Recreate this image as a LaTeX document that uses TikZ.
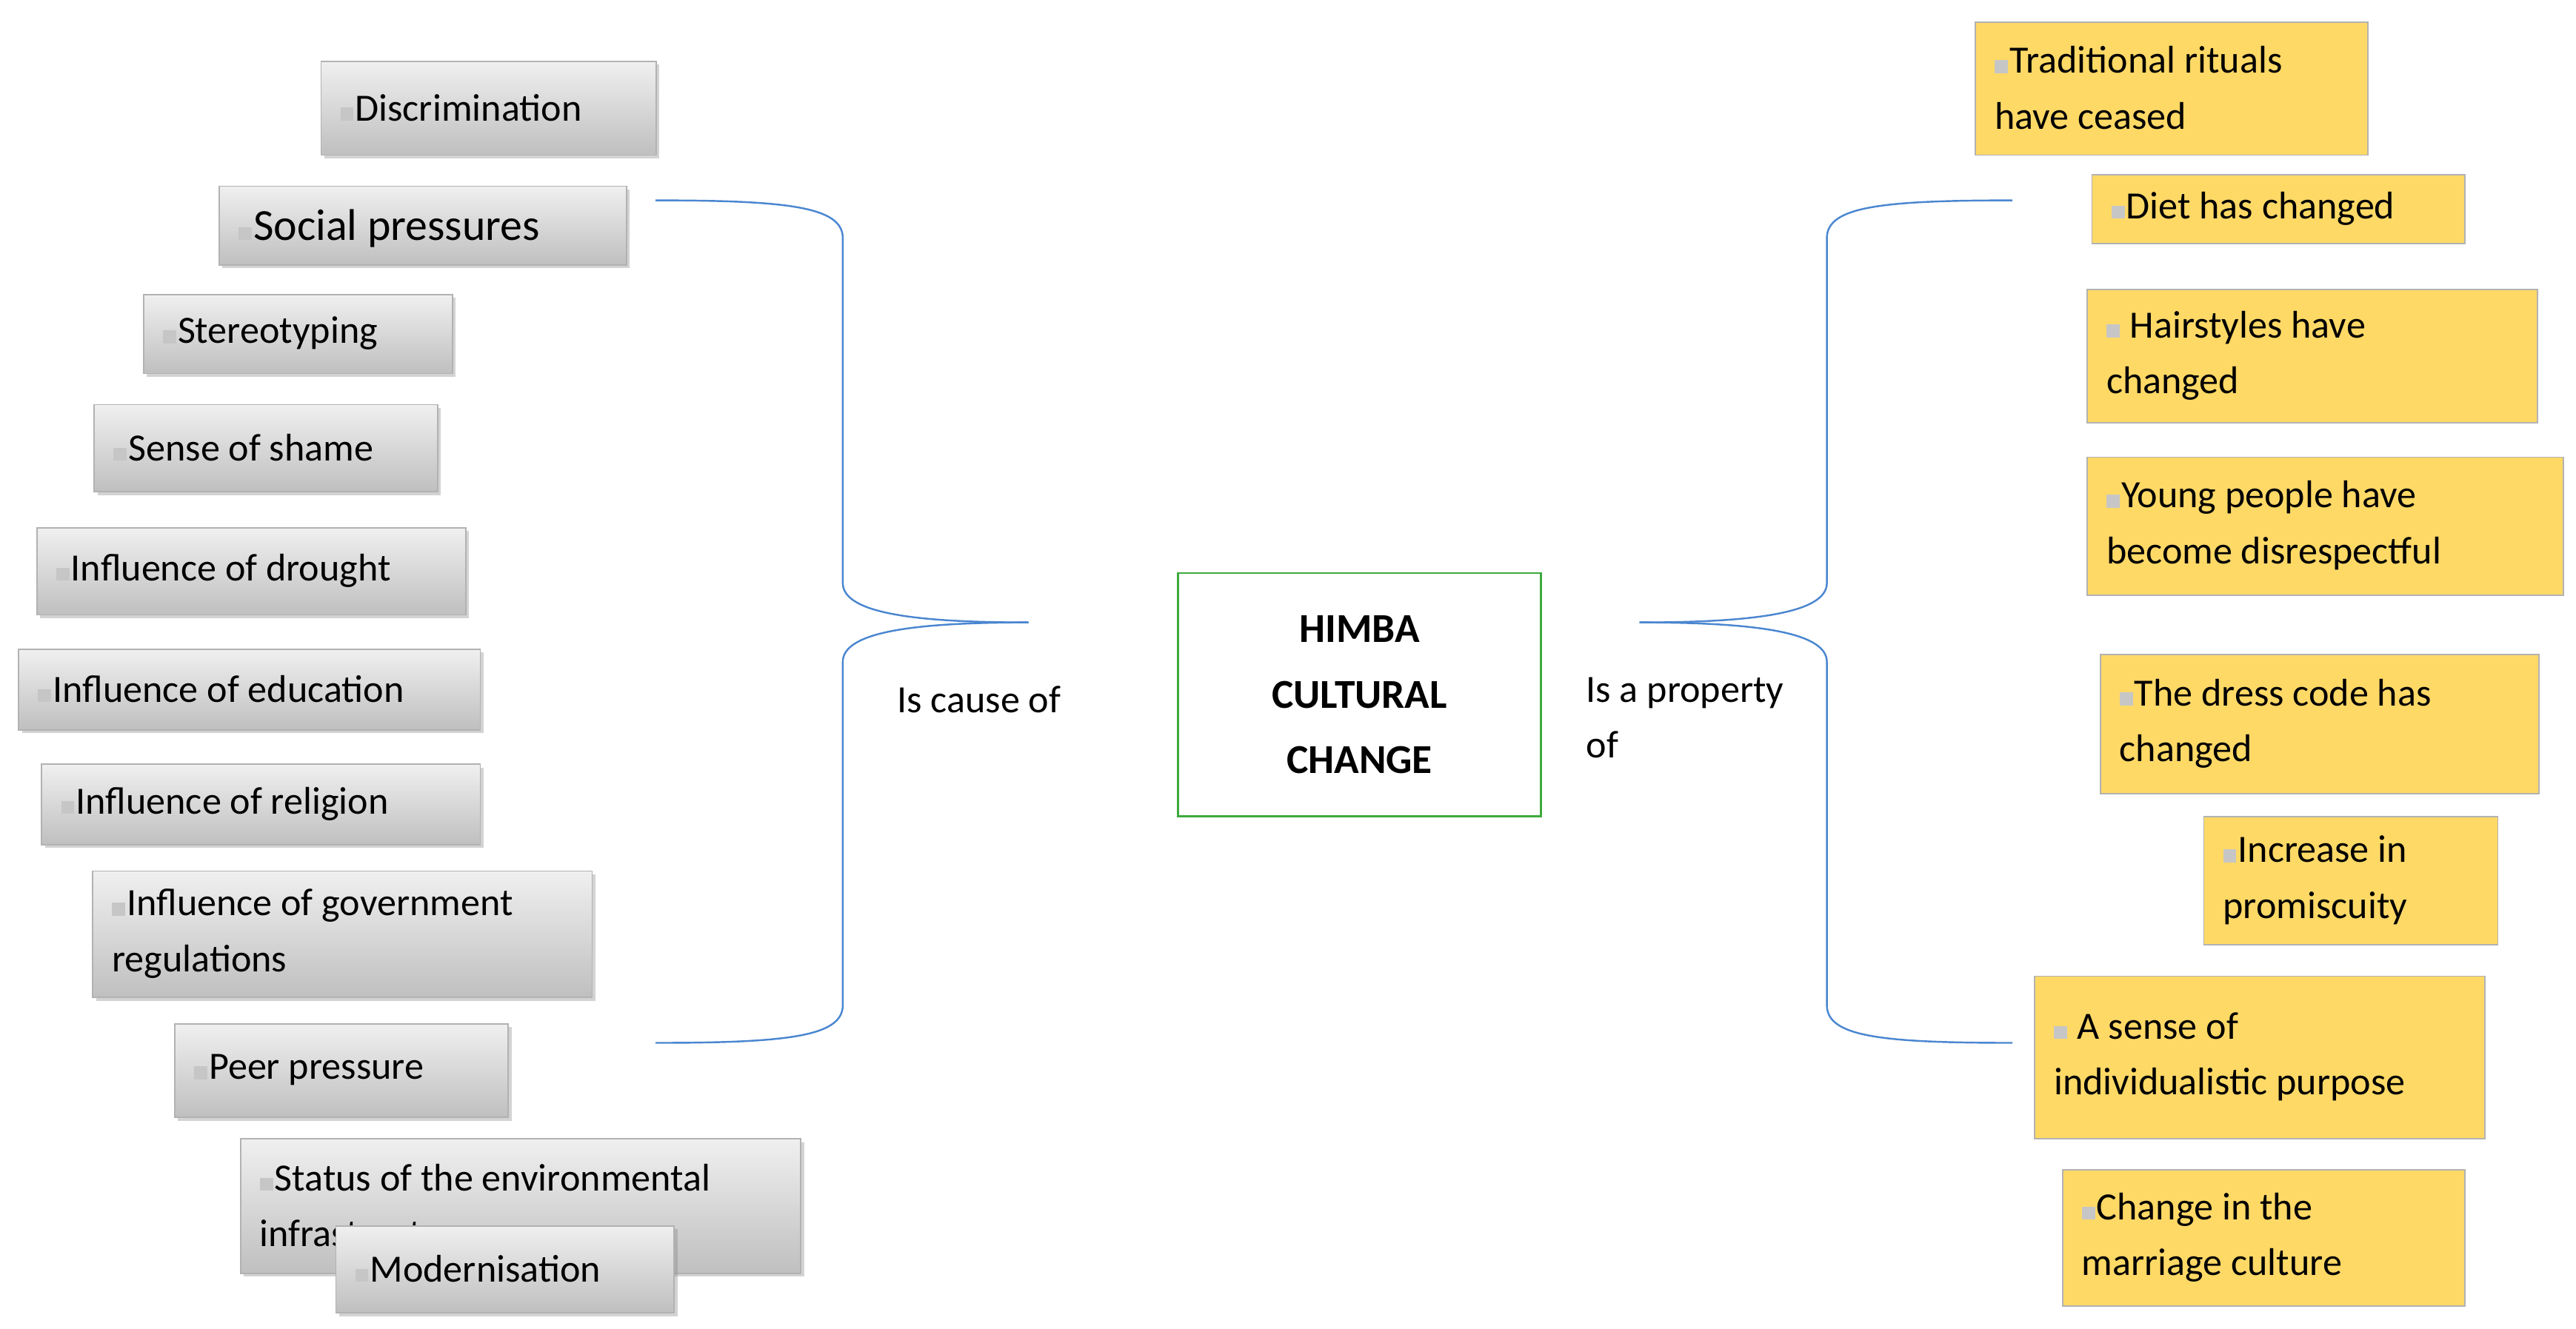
\documentclass[tikz,border=0pt]{standalone}
\usepackage{fontspec}
\setmainfont{Carlito}
\usetikzlibrary{shadows}
\definecolor{yel}{HTML}{FFD966}
\definecolor{brk}{HTML}{4A86D0}
\definecolor{grn}{HTML}{3DAA3D}
\newcommand{\ico}{{\color{gray!45}\rule{8pt}{8pt}}\hspace{1pt}}
\tikzset{
 base/.style={anchor=north west,align=left,font=\fontsize{23.5}{34}\selectfont,inner xsep=0pt,inner ysep=0pt,draw=gray!60,line width=0.8pt},
 gbox/.style={base,top color=gray!12,bottom color=gray!50,drop shadow={opacity=0.35,shadow xshift=2pt,shadow yshift=-2pt}},
 ybox/.style={base,fill=yel},
 br/.style={draw=brk,line width=1.1pt},
 txt/.style={anchor=west,align=left,font=\fontsize{23.5}{34}\selectfont,inner sep=0pt},
 lab/.style={font=\fontsize{23.5}{34}\selectfont,align=left}
}
% style, name, x1,y1,x2,y2, text
\newcommand{\bx}[7]{\node[#1,minimum width={#5-#3},minimum height={#6-#4}] (#2) at (#3,#4) {};
 \node[txt] (#2t) at ({#3+12},{(#4+#6)/2}) {\ico #7};}
\begin{document}
\begin{tikzpicture}[x=1pt,y=-1pt]
\useasboundingbox (0,0) rectangle (1568,809);
\bx{gbox}{d}{195}{37}{399}{94}{Discrimination}
\node[gbox,minimum width=248,minimum height=48] (sp) at (133,113) {};
\node[txt,font=\fontsize{27}{34}\selectfont] (spt) at (145,139) {\ico Social pressures};
\bx{gbox}{st}{87}{179}{275}{227}{Stereotyping}
\bx{gbox}{sh}{57}{246}{266}{299}{Sense of shame}
\bx{gbox}{dr}{22}{321}{283}{374}{Influence of drought}
\bx{gbox}{ed}{11}{395}{292}{444}{Influence of education}
\bx{gbox}{re}{25}{465}{292}{514}{Influence of religion}
\bx{gbox}{go}{56}{530}{360}{607}{Influence of government\\regulations}
\bx{gbox}{pp}{106}{623}{309}{680}{Peer pressure}
\bx{gbox}{en}{146}{693}{487}{775}{Status of the environmental\\infrastructure}
\bx{gbox}{mo}{204}{746}{410}{799}{Modernisation}
\bx{ybox}{tr}{1202}{13}{1441}{94}{Traditional rituals\\have ceased}
\bx{ybox}{di}{1273}{106}{1500}{148}{Diet has changed}
\bx{ybox}{ha}{1270}{176}{1544}{257}{ Hairstyles have\\changed}
\bx{ybox}{yo}{1270}{278}{1560}{362}{Young people have\\become disrespectful}
\bx{ybox}{dc}{1278}{398}{1545}{483}{The dress code has\\changed}
\bx{ybox}{pr}{1341}{497}{1520}{575}{Increase in\\promiscuity}
\bx{ybox}{in}{1238}{594}{1512}{693}{ A sense of\\individualistic purpose}
\bx{ybox}{ma}{1255}{712}{1500}{795}{Change in the\\marriage culture}
\node[draw=grn,line width=1.2pt,minimum width=221,minimum height=148,align=center,font=\fontsize{25}{40}\selectfont\bfseries] (c) at (827.5,423) {HIMBA\\CULTURAL\\CHANGE};
\coordinate (lt) at (399,122); \coordinate (lb) at (399,635); \coordinate (lm) at (626,379);
\coordinate (rt) at (1225,122); \coordinate (rb) at (1225,635); \coordinate (rm) at (998,379);
\draw[br] (lt) .. controls (480,122) and (513,126) .. (513,145) -- (513,355) .. controls (513,374) and (560,379) .. (lm);
\draw[br] (lm) .. controls (560,379) and (513,384) .. (513,403) -- (513,612) .. controls (513,631) and (480,635) .. (lb);
\draw[br] (rt) .. controls (1144,122) and (1112,126) .. (1112,145) -- (1112,355) .. controls (1112,374) and (1064,379) .. (rm);
\draw[br] (rm) .. controls (1064,379) and (1112,384) .. (1112,403) -- (1112,612) .. controls (1112,631) and (1144,635) .. (rb);
\node[lab] (l1) at (596,426) {Is cause of};
\node[lab,anchor=west] (l2) at (962,437) {Is a property\\of};
\end{tikzpicture}
\end{document}
